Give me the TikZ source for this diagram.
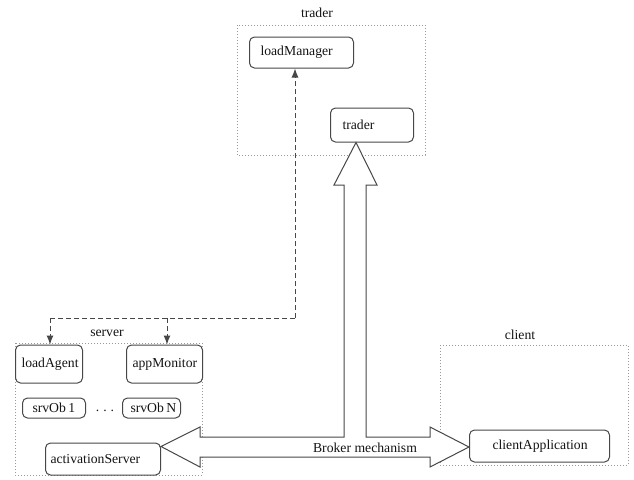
\documentclass[tikz,border=0pt]{standalone}
\usepackage{fontspec}
\setmainfont{Liberation Serif}
\usetikzlibrary{arrows.meta,calc}
\definecolor{lineC}{gray}{0.28}
\definecolor{grpC}{gray}{0.6}
\definecolor{txtC}{gray}{0.08}
\begin{document}
\begin{tikzpicture}[x=1pt,y=-1pt,
  every node/.style={font=\fontsize{13.7}{16}\selectfont, text=txtC},
  box/.style={draw=lineC, line width=1pt, rounded corners=5pt, inner xsep=0pt, inner ysep=0pt, align=left, anchor=west},
  grp/.style={draw=grpC, line width=1pt, dotted},
  dsh/.style={draw=lineC, line width=1pt, dash pattern=on 5pt off 3pt},
  tip/.style={-{Latex[length=9pt,width=7pt]}},
  big/.style={draw=lineC, line width=1pt, fill=white, line join=miter}]
\useasboundingbox (0,0) rectangle (634,479);
% group frames
\draw[grp] (237,25) rectangle (425,155);
\draw[grp] (15,343) rectangle (202,475);
\draw[grp] (440,345) rectangle (628,465);
\node (gTrader) at (317,13) {trader};
\node (gServer) at (107,333) {server};
\node (gClient) at (520,335) {client};
% nodes
\node[box, text width=104pt, minimum height=31pt] (lm) at (249,52.5) {\hspace*{11pt}loadManager};
\node[box, text width=83pt, minimum height=34pt] (tr) at (330,125) {\hspace*{12pt}trader};
\node[box, text width=67pt, minimum height=38pt] (la) at (15,364) {\hspace*{6pt}loadAgent};
\node[box, text width=76pt, minimum height=38pt] (am) at (126,364) {\hspace*{6pt}appMonitor};
\node[box, text width=63pt, minimum height=20pt] (s1) at (22,408) {\hspace*{10pt}srvOb\,1};
\node (dots) at (105,411) {.\hspace{4pt}.\hspace{4pt}.};
\node[box, text width=58pt, minimum height=20pt] (sN) at (122,408) {\hspace*{8pt}srvOb\,N};
\node[box, text width=115pt, minimum height=32pt] (as) at (45,459) {\hspace*{5pt}activationServer};
\node[box, text width=140pt, minimum height=32pt] (ca) at (469,446) {\hspace*{23pt}clientApplication};
% dashed connections
\coordinate (jL) at (50,318);
\coordinate (jR) at (295,318);
\coordinate (jM) at (167,318);
\draw[dsh] (jL) -- (jR);
\draw[dsh, tip] (jR) -- (jR |- lm.south);
\draw[dsh, tip] (jL) -- (jL |- la.north);
\draw[dsh, tip] (jM) -- (jM |- am.north);
% broker arrows
\coordinate (tipL) at ($(as.north east)+(0,4)$);
\coordinate (tipR) at ($(ca.west)+(0,1)$);
\coordinate (tipU) at ($(tr.south west)+(26,0)$);
\draw[big] (tipL) -- (200,427) -- (200,437) -- (344,437) -- (344,185) -- (334,185)
  -- (tipU) -- (377,185) -- (366,185) -- (366,437) -- (430,437) -- (430,427)
  -- (tipR) -- (430,467) -- (430,457) -- (200,457) -- (200,467) -- cycle;
\node (bm) at (365,448) {Broker mechanism};
\end{tikzpicture}
\end{document}
